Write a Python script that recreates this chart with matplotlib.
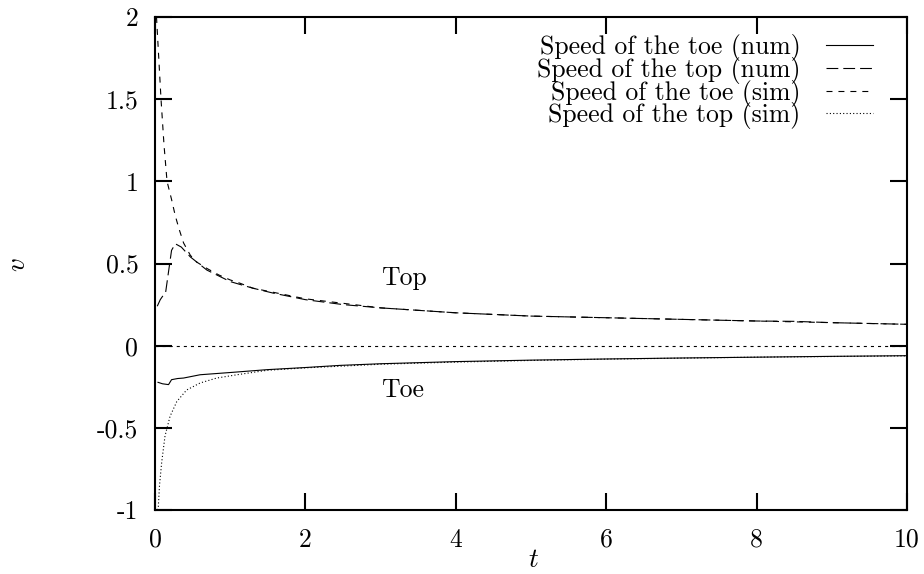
import numpy as np
import matplotlib
matplotlib.use("Agg")
import matplotlib.pyplot as plt

# curves
t_toe_num = [0.04, 0.10, 0.18, 0.22, 0.30, 0.38, 0.60, 1.04, 1.49, 2.0, 2.46, 3.0, 4.0, 5.0, 6.0, 7.0, 8.0, 9.0, 10.0]
v_toe_num = [-0.223, -0.232, -0.237, -0.207, -0.20, -0.197, -0.177, -0.162, -0.146, -0.133, -0.12, -0.11, -0.097, -0.088, -0.081, -0.075, -0.07, -0.065, -0.061]

t_top_num = [0.03, 0.07, 0.10, 0.14, 0.18, 0.22, 0.27, 0.35, 0.47, 0.69, 1.0, 1.3, 1.57, 2.0, 2.5, 3.0, 3.5, 4.0, 4.5, 5.0, 5.5, 6.0, 6.5, 7.0, 7.5, 8.0, 8.5, 9.0, 9.5, 10.0]
v_top_num = [0.24, 0.28, 0.30, 0.32, 0.45, 0.58, 0.62, 0.60, 0.54, 0.46, 0.39, 0.35, 0.32, 0.28, 0.25, 0.23, 0.215, 0.20, 0.19, 0.18, 0.175, 0.17, 0.165, 0.16, 0.155, 0.15, 0.148, 0.14, 0.135, 0.13]

t_toe_sim = [0.02, 0.05, 0.08, 0.12, 0.16, 0.22, 0.27, 0.32, 0.38, 0.47, 0.55, 0.69, 0.85, 1.0, 1.13, 1.3, 1.57, 2.0, 2.46, 3.0, 4.0, 5.0, 6.0, 7.0, 8.0, 9.0, 10.0]
v_toe_sim = [2.0, 1.75, 1.5, 1.22, 1.0, 0.89, 0.79, 0.71, 0.625, 0.55, 0.51, 0.47, 0.43, 0.40, 0.38, 0.35, 0.325, 0.285, 0.26, 0.23, 0.20, 0.18, 0.17, 0.16, 0.15, 0.14, 0.13]

t_top_sim = [0.03, 0.044, 0.06, 0.089, 0.133, 0.20, 0.29, 0.42, 0.60, 0.82, 1.09, 1.49, 2.0, 2.46, 3.0, 4.0, 5.0, 6.0, 7.0, 8.0, 9.0, 10.0]
v_top_sim = [-1.0, -0.98, -0.85, -0.71, -0.55, -0.43, -0.34, -0.27, -0.227, -0.197, -0.177, -0.15, -0.135, -0.125, -0.113, -0.10, -0.09, -0.082, -0.076, -0.07, -0.066, -0.062]

labels = ["Speed of the toe (num)", "Speed of the top (num)",
          "Speed of the toe (sim)", "Speed of the top (sim)"]
xticks = [0, 2, 4, 6, 8, 10]
yticks = [-1, -0.5, 0, 0.5, 1, 1.5, 2]
yticklabels = ["-1", "-0.5", "0", "0.5", "1", "1.5", "2"]

plt.rcParams['font.family'] = ['cmr10', 'DejaVu Serif']
plt.rcParams['mathtext.fontset'] = 'cm'
plt.rcParams['lines.scale_dashes'] = False
fs = 18.5

fig = plt.figure(figsize=(9.24, 5.74), dpi=100)
ax = fig.add_axes([155/924, 1 - 510/574, 752/924, 493/574])

lw = 0.8
ax.plot(t_toe_num, v_toe_num, color='black', lw=lw, ls='-', label=labels[0])
ax.plot(t_top_num, v_top_num, color='black', lw=lw, ls=(0, (8.5, 3.6)), label=labels[1])
ax.plot(t_toe_sim, v_toe_sim, color='black', lw=lw, ls=(0, (4.3, 4.3)), label=labels[2])
ax.plot(t_top_sim, v_top_sim, color='black', lw=lw, ls=(0, (0.8, 1.6)), label=labels[3])
ax.axhline(0, color='black', lw=lw, ls=(0, (2.2, 2.9)))

ax.set_xlim(0, 10)
ax.set_ylim(-1, 2)
ax.set_xticks(xticks)
ax.set_xticklabels([str(x) for x in xticks], fontsize=fs)
ax.set_yticks(yticks)
ax.set_yticklabels(yticklabels, fontsize=fs)
ax.tick_params(direction='in', length=12, width=1.5, top=True, right=True)
ax.tick_params(axis='x', pad=13)
ax.tick_params(axis='y', pad=12)
for s in ax.spines.values():
    s.set_linewidth(1.5)

ax.text(3.0, 0.41, "Top", fontsize=fs, ha='left', va='center')
ax.text(3.0, -0.27, "Toe", fontsize=fs, ha='left', va='center')

fig.text(533/924, 1 - 560/574, "$t$", fontsize=fs + 1, ha='center', va='center')
fig.text(18/924, 1 - 265/574, "$v$", fontsize=fs + 1, ha='center', va='center', rotation=90)

leg = ax.legend(loc='upper right', bbox_to_anchor=(0.955, 0.965), frameon=False,
                markerfirst=False, fontsize=fs, handlelength=1.83, handletextpad=1.0,
                labelspacing=-0.17, borderpad=0, borderaxespad=0)

fig.savefig("out.png", dpi=100)
